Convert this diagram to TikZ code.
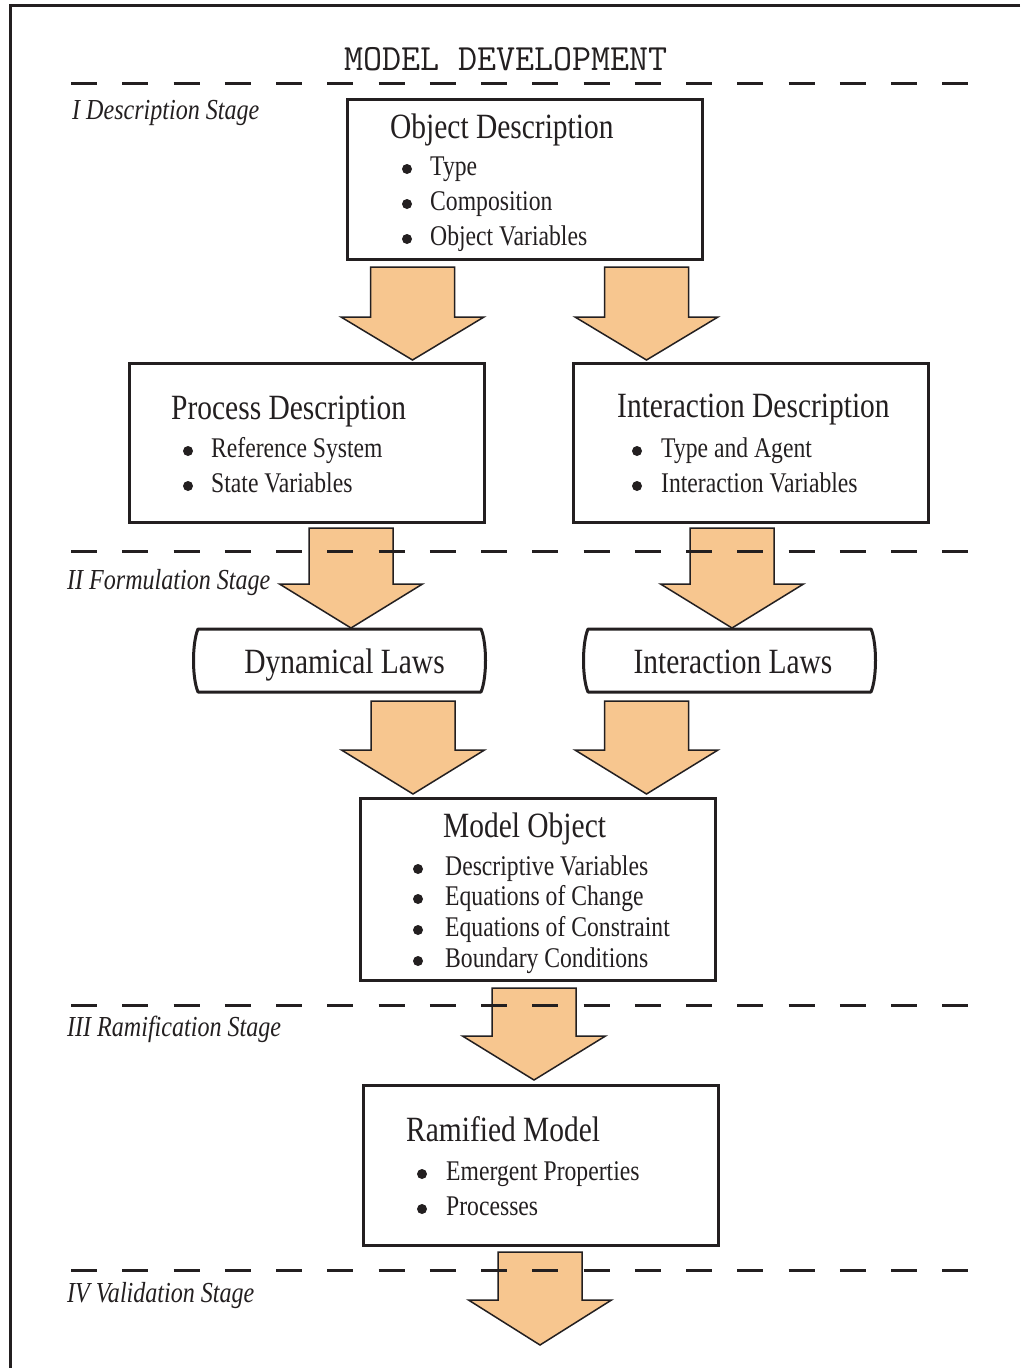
\documentclass[tikz,border=0pt]{standalone}
\usepackage{fontspec}
\setmainfont{Liberation Serif}[FakeStretch=0.83]
\definecolor{ink}{RGB}{35,31,32}
\definecolor{arrfill}{RGB}{247,198,143}
\tikzset{
  box/.style={draw=ink, line width=3pt, minimum width=355pt, inner sep=0pt, outer sep=0pt},
  lawbox/.style={minimum width=291pt, minimum height=63pt, inner sep=0pt, outer sep=0pt},
  lawline/.style={draw=ink, line width=3pt, line join=round},
  ttl/.style={anchor=base west, inner sep=0pt, font=\fontsize{35.5}{40}\selectfont, text=ink},
  itm/.style={anchor=base west, inner sep=0pt, font=\fontsize{28.5}{32}\selectfont, text=ink},
  stage/.style={anchor=base west, inner sep=0pt, font=\fontsize{29}{32}\selectfont\itshape, text=ink},
  stageline/.style={draw=ink, line width=3pt, dash pattern=on 26pt off 25.25pt},
  blk/.style={draw=ink, line width=1.5pt, fill=arrfill, line join=miter},
  bul/.style={fill=ink},
}
% block arrow: centre x, top y, head y, tip y
\newcommand\blockarr[4]{%
  \draw[blk] (#1-42,#2) -- (#1+42,#2) -- (#1+42,#3) -- (#1+71.5,#3) -- (#1,#4)
    -- (#1-71.5,#3) -- (#1-42,#3) -- cycle;}
\newcommand\lawshape[1]{%
  \draw[lawline] ([xshift=4pt]#1.north west) -- ([xshift=-4pt]#1.north east)
    .. controls ([xshift=2pt,yshift=-14pt]#1.north east) and ([xshift=2pt,yshift=14pt]#1.south east) .. ([xshift=-4pt]#1.south east)
    -- ([xshift=4pt]#1.south west)
    .. controls ([xshift=-2pt,yshift=14pt]#1.south west) and ([xshift=-2pt,yshift=-14pt]#1.north west) .. ([xshift=4pt]#1.north west) -- cycle;}
\begin{document}
\begin{tikzpicture}[x=1pt,y=-1pt]
\useasboundingbox (0,0) rectangle (1020,1368);
\fill[white] (0,0) rectangle (1020,1368);
% frame
\draw[ink, line width=3pt] (1020,5) -- (10,5) -- (10,1368);
% title
\node[anchor=base, inner sep=0pt, font=\ttfamily\fontsize{37}{40}\selectfont, text=ink] (title) at (506,70) {MODEL DEVELOPMENT};

% boxes
\node[box, minimum height=160pt] (obj) at (524.5,179) {};
\node[box, minimum height=159pt] (proc) at (306.5,442.5) {};
\node[box, minimum height=159pt] (inter) at (750.5,442.5) {};
\node[box, minimum height=182pt] (model) at (537.5,889) {};
\node[box, minimum height=160pt] (ram) at (540.5,1165) {};
\node[lawbox] (dyn) at (339.5,660.5) {};
\node[lawbox] (ilaw) at (729.5,660.5) {};
\lawshape{dyn}
\lawshape{ilaw}

% object description
\node[ttl] (objt) at (390,138) {Object Description};
\fill[bul] (407,169) circle (5pt); \node[itm] (o1) at (430,175) {Type};
\fill[bul] (407,204) circle (5pt); \node[itm] (o2) at (430,210) {Composition};
\fill[bul] (407,239) circle (5pt); \node[itm] (o3) at (430,245) {Object Variables};

% process description
\node[ttl] (proct) at (171,419) {Process Description};
\fill[bul] (188,451) circle (5pt); \node[itm] (p1) at (211,457) {Reference System};
\fill[bul] (188,486) circle (5pt); \node[itm] (p2) at (211,492) {State Variables};

% interaction description
\node[ttl] (intert) at (617,417) {Interaction Description};
\fill[bul] (637,451) circle (5pt); \node[itm] (i1) at (661,457) {Type and Agent};
\fill[bul] (637,486) circle (5pt); \node[itm] (i2) at (661,492) {Interaction Variables};

% laws
\node[anchor=base, inner sep=0pt, font=\fontsize{35.5}{40}\selectfont, text=ink] (dynt) at (344.5,673) {Dynamical Laws};
\node[anchor=base, inner sep=0pt, font=\fontsize{35.5}{40}\selectfont, text=ink] (ilawt) at (733,673) {Interaction Laws};

% model object
\node[ttl] (modelt) at (443,837) {Model Object};
\fill[bul] (418,869) circle (5pt); \node[itm] (m1) at (445,875) {Descriptive Variables};
\fill[bul] (418,899) circle (5pt); \node[itm] (m2) at (445,905) {Equations of Change};
\fill[bul] (418,930) circle (5pt); \node[itm] (m3) at (445,936) {Equations of Constraint};
\fill[bul] (418,961) circle (5pt); \node[itm] (m4) at (445,967) {Boundary Conditions};

% ramified model
\node[ttl] (ramt) at (406,1141) {Ramified Model};
\fill[bul] (422,1174) circle (5pt); \node[itm] (r1) at (446,1180) {Emergent Properties};
\fill[bul] (422,1209) circle (5pt); \node[itm] (r2) at (446,1215) {Processes};

% block arrows
\blockarr{412.5}{267}{317}{360}
\blockarr{646.5}{267}{317}{360}
\blockarr{351}{528}{584}{628}
\blockarr{732}{528}{584}{628}
\blockarr{413}{701}{750}{794}
\blockarr{646.5}{701}{750}{794}
\blockarr{534}{988}{1036}{1080}
\blockarr{540}{1252}{1300}{1345}

% stage lines
\coordinate (s1a) at (71,83);   \coordinate (s1b) at (968,83);
\coordinate (s2a) at (71,551);  \coordinate (s2b) at (968,551);
\coordinate (s3a) at (71,1005); \coordinate (s3b) at (968,1005);
\coordinate (s4a) at (71,1270); \coordinate (s4b) at (968,1270);
\draw[stageline] (s1a) -- (s1b);
\draw[stageline] (s2a) -- (s2b);
\draw[stageline] (s3a) -- (s3b);
\draw[stageline] (s4a) -- (s4b);

% stage labels
\node[stage] (st1) at (72,119) {I Description Stage};
\node[stage] (st2) at (67,589) {II Formulation Stage};
\node[stage] (st3) at (67,1036) {III Ramification Stage};
\node[stage] (st4) at (67,1302) {IV Validation Stage};
\end{tikzpicture}
\end{document}
